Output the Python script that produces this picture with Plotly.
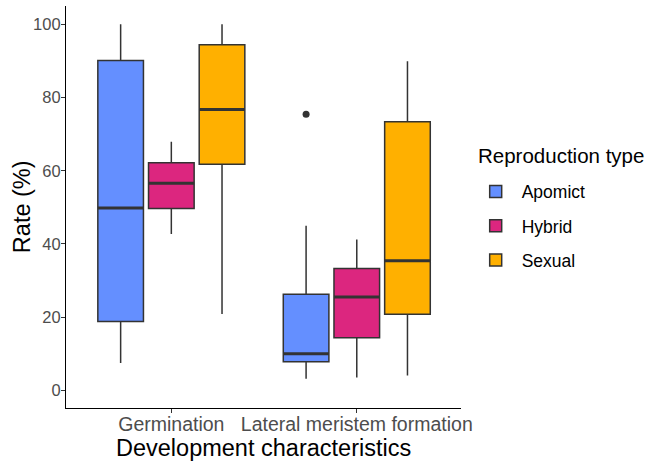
import plotly.graph_objects as go

# Development characteristics on the x axis
stages = ["Germination", "Lateral meristem formation"]

# Box statistics (%) for each reproduction type, one value per stage
apomict_low = [7.5, 3.2]
apomict_q1 = [18.8, 7.8]
apomict_med = [49.8, 10.0]
apomict_q3 = [90.1, 26.3]
apomict_high = [100.0, 45.0]
apomict_outliers = [[], [75.4]]

hybrid_low = [42.7, 3.5]
hybrid_q1 = [49.7, 14.4]
hybrid_med = [56.6, 25.5]
hybrid_q3 = [62.2, 33.3]
hybrid_high = [67.9, 41.2]
hybrid_outliers = [[], []]

sexual_low = [20.9, 4.1]
sexual_q1 = [61.8, 20.8]
sexual_med = [76.7, 35.4]
sexual_q3 = [94.4, 73.4]
sexual_high = [100.0, 89.9]
sexual_outliers = [[], []]

y_ticks = [0, 20, 40, 60, 80, 100]

groups = [
    ("Apomict", "#648FFF", apomict_low, apomict_q1, apomict_med, apomict_q3, apomict_high, apomict_outliers),
    ("Hybrid", "#DC267F", hybrid_low, hybrid_q1, hybrid_med, hybrid_q3, hybrid_high, hybrid_outliers),
    ("Sexual", "#FFB000", sexual_low, sexual_q1, sexual_med, sexual_q3, sexual_high, sexual_outliers),
]

EDGE = "#333333"
FONT = "Liberation Sans, Arial, sans-serif"

fig = go.Figure()
for name, color, lo, q1, med, q3, hi, outl in groups:
    # sample points per box: the whisker ends plus any outliers
    pts = [[a, b] + list(o) for a, b, o in zip(lo, hi, outl)]
    fig.add_trace(go.Box(
        name=name,
        x=stages,
        y=pts,
        q1=q1, median=med, q3=q3,
        lowerfence=lo, upperfence=hi,
        offsetgroup=name,
        legendgroup=name,
        fillcolor=color,
        line=dict(color=EDGE, width=1.5),
        whiskerwidth=0,
        boxpoints="outliers",
        jitter=0,
        pointpos=0,
        marker=dict(color=EDGE, size=7, line=dict(width=0)),
        hoverinfo="skip",
    ))
    # thicker median bar drawn on top of each box
    fig.add_trace(go.Box(
        name=name,
        x=stages,
        q1=med, median=med, q3=med,
        lowerfence=med, upperfence=med,
        offsetgroup=name,
        legendgroup=name,
        showlegend=False,
        fillcolor="rgba(0,0,0,0)",
        line=dict(color=EDGE, width=3),
        whiskerwidth=0,
        boxpoints=False,
        hoverinfo="skip",
    ))

fig.update_layout(
    width=660, height=464,
    margin=dict(l=66, r=199, t=6, b=56),
    paper_bgcolor="white",
    plot_bgcolor="white",
    boxmode="group",
    boxgap=0.18,
    boxgroupgap=0.1,
    font=dict(family=FONT, color="black"),
    showlegend=True,
    legend=dict(
        font=dict(size=17.5, color="black"),
        x=1.022, xanchor="left",
        y=0.583, yanchor="top",
        itemwidth=42,
        traceorder="grouped",
        tracegroupgap=8.5,
        bgcolor="rgba(0,0,0,0)",
    ),
    annotations=[
        dict(
            text="Reproduction type",
            xref="paper", yref="paper",
            x=1.038, y=0.6276, xanchor="left", yanchor="middle",
            showarrow=False,
            font=dict(size=20.5, color="black"),
        ),
        dict(
            text="Development characteristics",
            xref="paper", yref="paper",
            x=0.5, y=-0.0995, xanchor="center", yanchor="middle",
            showarrow=False,
            font=dict(size=23.5, color="black"),
        ),
        dict(
            text="Rate (%)",
            xref="paper", yref="paper",
            x=-0.111, y=0.5, xanchor="center", yanchor="middle",
            textangle=-90,
            showarrow=False,
            font=dict(size=23.5, color="black"),
        ),
    ],
    xaxis=dict(
        type="category",
        range=[-0.568, 1.562],
        automargin=False,
        showline=True, linecolor="black", linewidth=1.1,
        ticks="outside", ticklen=4, tickcolor=EDGE, tickwidth=1.1,
        ticklabelstandoff=-5,
        tickfont=dict(size=19.5, color="#4D4D4D"),
        showgrid=False, zeroline=False,
    ),
    yaxis=dict(
        range=[-4.8, 105],
        tickvals=y_ticks,
        automargin=False,
        showline=True, linecolor="black", linewidth=1.1,
        ticks="outside", ticklen=4, tickcolor=EDGE, tickwidth=1.1,
        ticklabelstandoff=-3,
        tickfont=dict(size=16.5, color="#4D4D4D"),
        showgrid=False, zeroline=False,
    ),
)

fig.write_html("out.html")
